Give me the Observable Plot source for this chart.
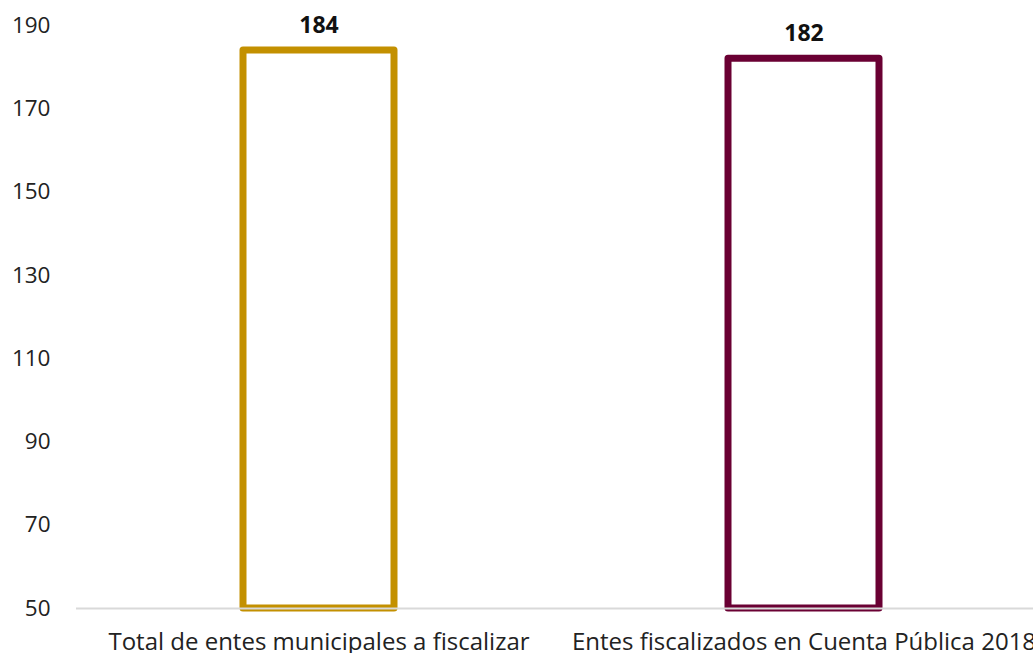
<!DOCTYPE html>
<html>
<head>
<meta charset="utf-8">
<script src="https://cdn.jsdelivr.net/npm/d3@7"></script>
<script src="https://cdn.jsdelivr.net/npm/@observablehq/plot@0.6"></script>
<style>
  html, body { margin: 0; padding: 0; background: #fff; overflow: hidden; }
  #chart svg { display: block; }
</style>
</head>
<body>
<div id="chart"></div>
<script>
const categories = ["Total de entes municipales a fiscalizar", "Entes fiscalizados en Cuenta Pública 2018"];
const values = [184, 182];
const colors = ["#C39000", "#6A0033"];
const yTicks = [50, 70, 90, 110, 130, 150, 170, 190];
const yMin = 50;
const yMax = 190;

const data = categories.map((c, i) => ({category: c, value: values[i], color: colors[i]}));

const chart = Plot.plot({
  width: 1033,
  height: 653,
  marginLeft: 76,
  marginRight: 0,
  marginTop: 25,
  marginBottom: 45,
  style: {fontFamily: "'Open Sans', sans-serif", fontSize: "23px", color: "#222", background: "#fff"},
  x: {domain: categories, range: [76, 1046], paddingInner: 0.689, paddingOuter: 0.3445, label: null},
  y: {domain: [yMin, yMax], label: null},
  marks: [
    Plot.barY(data, {
      x: "category",
      y1: () => yMin,
      y2: "value",
      fill: "white",
      stroke: d => d.color,
      strokeWidth: 7,
      strokeLinejoin: "round"
    }),
    Plot.ruleY([yMin], {stroke: "#d9d9d9", strokeWidth: 2}),
    Plot.text(data, {
      x: "category",
      y: "value",
      text: d => String(d.value),
      dy: -25,
      fontWeight: "bold",
      fontSize: 23,
      fill: "#111"
    }),
    Plot.axisY({ticks: yTicks, tickSize: 0, tickPadding: 26, fontSize: 22.5, fill: "#222"}),
    Plot.axisX({tickSize: 0, tickPadding: 24, fontSize: 24, fill: "#222"})
  ]
});
document.getElementById("chart").appendChild(chart);
</script>
</body>
</html>
